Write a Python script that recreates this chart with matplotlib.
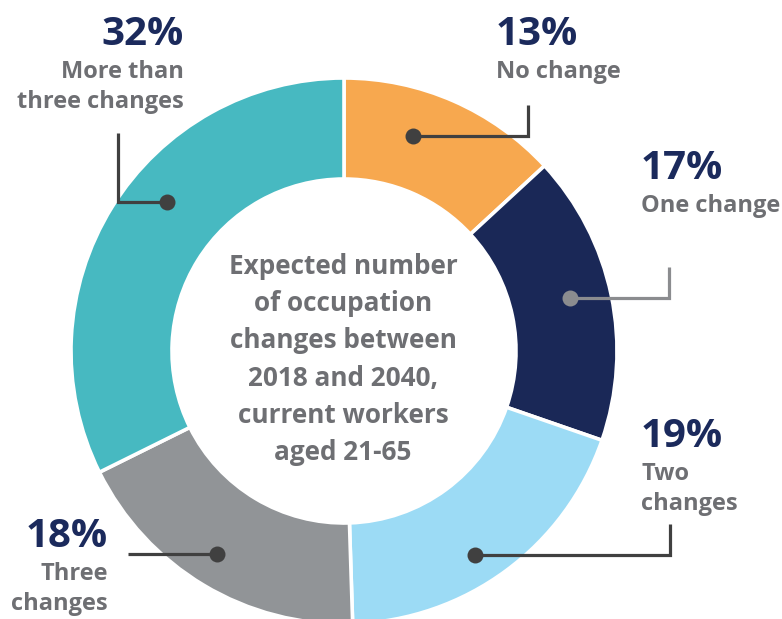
import matplotlib
matplotlib.use("Agg")
import matplotlib.pyplot as plt

plt.rcParams['font.family'] = ['Open Sans', 'DejaVu Sans']

categories = ["No change", "One change", "Two\nchanges", "Three\nchanges", "More than\nthree changes"]
values = [13, 17, 19, 18, 32]
pct_labels = ["13%", "17%", "19%", "18%", "32%"]
colors = ["#F7A84F", "#1A2857", "#9CDBF5", "#919497", "#47B9C1"]
center_text = "Expected number\nof occupation\nchanges between\n2018 and 2040,\ncurrent workers\naged 21-65"

W, H = 782, 619
fig = plt.figure(figsize=(W / 100, H / 100), dpi=100)
ax = fig.add_axes([0, 0, 1, 1])

def Y(p):
    return H - p

cx, cy = 344, Y(351)
R_out, R_in = 273, 172

ax.pie(values, colors=colors, startangle=90, counterclock=False,
       center=(cx, cy), radius=R_out,
       wedgeprops=dict(width=R_out - R_in, edgecolor="white", linewidth=2.6),
       frame=True)
ax.set_xlim(0, W)
ax.set_ylim(0, H)
ax.set_aspect("equal")
ax.axis("off")

navy = "#1B2A5C"
grey_txt = "#6E6F73"
dark_line = "#404040"
light_line = "#8B8C8F"

leaders = [
    ((413, 136), [(528, 136), (528, 105)], dark_line),
    ((570, 298), [(669, 298), (669, 267)], light_line),
    ((475, 555), [(670, 555), (670, 524)], dark_line),
    ((217, 554), [(128, 554)], dark_line),
    ((167, 202), [(118, 202), (118, 133)], dark_line),
]
for (dx, dy), pts, c in leaders:
    xs = [dx] + [p[0] for p in pts]
    ys = [Y(dy)] + [Y(p[1]) for p in pts]
    ax.plot(xs, ys, color=c, lw=2.3, solid_capstyle="butt", solid_joinstyle="miter", zorder=5)
    ax.plot([dx], [Y(dy)], "o", color=c, ms=11.5, mec="none", zorder=6)

label_pos = [
    (496, 45, "left"),
    (641, 179, "left"),
    (641, 447, "left"),
    (108, 547, "right"),
    (184, 45, "right"),
]
for (x, yb, ha), pct, cat in zip(label_pos, pct_labels, categories):
    ax.text(x, Y(yb), pct, ha=ha, va="baseline", fontsize=29, fontweight="bold", color=navy)
    for i, line in enumerate(cat.split("\n")):
        ax.text(x, Y(yb + 33 + 30 * i), line, ha=ha, va="baseline", fontsize=17,
                fontweight="bold", color=grey_txt)

for i, line in enumerate(center_text.split("\n")):
    ax.text(343, Y(274 + 37.2 * i), line, ha="center", va="baseline", fontsize=18.8,
            fontweight="bold", color=grey_txt)

fig.savefig("out.png", dpi=100, facecolor="white")
